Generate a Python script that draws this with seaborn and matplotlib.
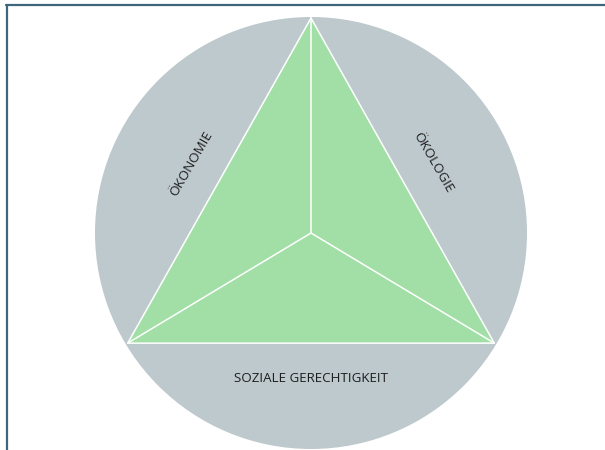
import numpy as np
import pandas as pd
import matplotlib
matplotlib.use("Agg")
import matplotlib.pyplot as plt
import seaborn as sns
from matplotlib.patches import Circle
from matplotlib.lines import Line2D

# ==================================================
# Daten: die drei Dimensionen der Nachhaltigkeit
# ==================================================
ecken = ["oben", "links", "rechts"]
ecken_winkel = [90, 211, 329]          # Richtung der Dreiecksecken (Grad)
ecken_werte = [0.995, 0.99, 0.99]      # (fast) gleich gewichtet

dimensionen = ["ÖKONOMIE", "ÖKOLOGIE", "SOZIALE GERECHTIGKEIT"]
dimension_winkel = [150, 30, 270]      # Richtung der Beschriftung
dimension_abstand = [0.64, 0.65, 0.675]
dimension_drehung = [60, -60, 0]

# Farben
GRAU = "#bec9ce"
GRUEN = "#a2dfa6"
RAHMEN = "#3e677d"
TEXT = "#1e1e1e"

# ==================================================
# Aufbereitung
# ==================================================
w = np.deg2rad(ecken_winkel)
df = pd.DataFrame({
    "ecke": ecken,
    "x": np.array(ecken_werte) * np.cos(w),
    "y": np.array(ecken_werte) * np.sin(w),
})

sns.set_theme(style="white")
plt.rcParams["font.family"] = ["Open Sans", "DejaVu Sans"]

fig = plt.figure(figsize=(6.05, 4.5), dpi=100)
ax = fig.add_axes([0, 0, 1, 1])

# Pixel -> Dateneinheiten (Radius = 216 px, Mitte bei 311/233)
R = 216.0
ax.set_xlim(-311 / R, (605 - 311) / R)
ax.set_ylim(-(450 - 233) / R, 233 / R)
ax.set_aspect("equal")
ax.axis("off")

# Kreis
ax.add_patch(Circle((0, 0), 1.0, facecolor=GRAU, edgecolor="none", zorder=1))

# Dreieck
ax.fill(df["x"], df["y"], color=GRUEN, zorder=2, linewidth=0)
rand = pd.concat([df, df.iloc[[0]]], ignore_index=True)
sns.lineplot(data=rand, x="x", y="y", sort=False, color="white",
             linewidth=1.1, ax=ax, zorder=3, estimator=None)

# Speichen vom Mittelpunkt
for _, r in df.iterrows():
    spoke = pd.DataFrame({"x": [0, r["x"]], "y": [0, r["y"]]})
    sns.lineplot(data=spoke, x="x", y="y", sort=False, color="white",
                 linewidth=1.1, ax=ax, zorder=3, estimator=None)

# Beschriftungen
for name, wink, ab, rot in zip(dimensionen, dimension_winkel,
                                dimension_abstand, dimension_drehung):
    t = np.deg2rad(wink)
    ax.text(ab * np.cos(t), ab * np.sin(t), name, rotation=rot,
            ha="center", va="center", fontsize=9.6, color=TEXT, zorder=4,
            rotation_mode="anchor")

ax.set_xlabel("")
ax.set_ylabel("")

# Rahmen oben und links
fig.add_artist(Line2D([6 / 605, 1], [1 - 5 / 450, 1 - 5 / 450],
                      transform=fig.transFigure, color=RAHMEN, linewidth=1.6))
fig.add_artist(Line2D([7 / 605, 7 / 605], [0, 1 - 5 / 450],
                      transform=fig.transFigure, color=RAHMEN, linewidth=1.6))

fig.savefig("out.png", dpi=100, facecolor="white")
